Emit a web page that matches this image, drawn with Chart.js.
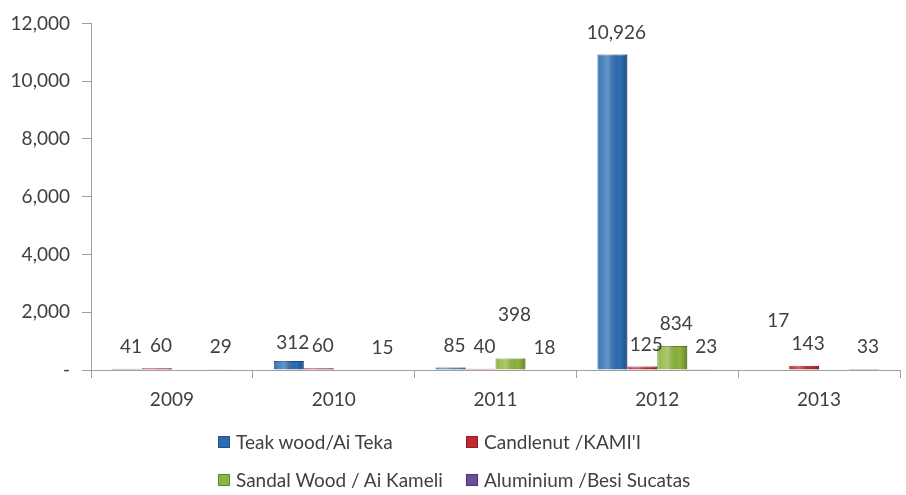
<!DOCTYPE html>
<html>
<head>
<meta charset="utf-8">
<script src="https://cdn.jsdelivr.net/npm/chart.js@4/dist/chart.umd.min.js"></script>
<style>
  body { margin: 0; background: #fff; }
  #wrap { position: relative; width: 906px; height: 495px; }
  #legend { position: absolute; left: 218px; top: 430px; font-family: Lato, sans-serif; font-size: 19px; color: #404040; }
  .item { position: absolute; white-space: nowrap; display: flex; align-items: center; }
  .box { width: 10px; height: 10px; margin-right: 6px; border: 1px solid rgba(0,0,0,0.25); }
</style>
</head>
<body>
<div id="wrap">
  <canvas id="myChart" width="906" height="495"></canvas>
  <div id="legend"></div>
</div>
<script>
var years = ["2009", "2010", "2011", "2012", "2013"];
var seriesNames = ["Teak wood/Ai Teka", "Candlenut /KAMI'I", "Sandal Wood / Ai Kameli", "Aluminium /Besi Sucatas"];
var teak = [41, 312, 85, 10926, 17];
var candlenut = [60, 60, 40, 125, 143];
var sandal = [0, 0, 398, 834, 0];
var aluminium = [29, 15, 18, 23, 33];
var yTicks = [0, 2000, 4000, 6000, 8000, 10000, 12000];

var colors = ["#2e6db5", "#c0282e", "#8db53c", "#6a4c9c"];
var borders = ["#1d4b86", "#8e1a1f", "#62812a", "#4a3470"];
var allSeries = [teak, candlenut, sandal, aluminium];

// some labels sit higher in the original to avoid overlapping
var labelLift = { "2:2": 22, "0:4": 27, "0:1": -4 };

var labelPlugin = {
  id: "barLabels",
  afterDatasetsDraw: function (chart) {
    var ctx = chart.ctx;
    ctx.save();
    // soft highlight to give bars a rounded look
    chart.data.datasets.forEach(function (ds, di) {
      chart.getDatasetMeta(di).data.forEach(function (bar) {
        var h = bar.base - bar.y;
        if (h < 1) return;
        var g = ctx.createLinearGradient(bar.x - bar.width / 2, 0, bar.x + bar.width / 2, 0);
        g.addColorStop(0, "rgba(255,255,255,0.05)");
        g.addColorStop(0.35, "rgba(255,255,255,0.28)");
        g.addColorStop(0.75, "rgba(0,0,0,0.0)");
        g.addColorStop(1, "rgba(0,0,0,0.25)");
        ctx.fillStyle = g;
        ctx.fillRect(bar.x - bar.width / 2, bar.y, bar.width, h);
      });
    });
    ctx.font = "19px Lato, sans-serif";
    ctx.fillStyle = "#404040";
    ctx.textAlign = "center";
    ctx.textBaseline = "middle";
    chart.data.datasets.forEach(function (ds, di) {
      chart.getDatasetMeta(di).data.forEach(function (bar, i) {
        var v = ds.data[i];
        if (!v) return;
        var lift = labelLift[di + ":" + i] || 0;
        ctx.fillText(v.toLocaleString("en-US"), bar.x + 4, bar.y - 22 - lift);
      });
    });
    ctx.restore();
  }
};

var datasets = allSeries.map(function (vals, i) {
  return {
    label: seriesNames[i],
    data: vals,
    backgroundColor: colors[i],
    borderColor: borders[i],
    borderWidth: 1,
    barPercentage: 1,
    categoryPercentage: 0.74
  };
});

new Chart("myChart", {
  type: "bar",
  data: { labels: years, datasets: datasets },
  options: {
    responsive: false,
    animation: false,
    layout: { padding: { top: 15, right: 6, left: 0, bottom: 0 } },
    plugins: { legend: { display: false }, tooltip: { enabled: false } },
    scales: {
      x: {
        afterFit: function (s) { s.height = 125; },
        border: { color: "#a0a0a0" },
        grid: { drawOnChartArea: false, tickLength: 8, color: "#a0a0a0", offset: true },
        ticks: { color: "#404040", font: { family: "Lato", size: 19 }, padding: 10 }
      },
      y: {
        min: 0,
        max: 12000,
        afterFit: function (s) { s.width = 91; },
        afterBuildTicks: function (s) { s.ticks = yTicks.map(function (v) { return { value: v }; }); },
        border: { color: "#a0a0a0" },
        grid: { drawOnChartArea: false, tickLength: 9, color: "#a0a0a0" },
        ticks: {
          color: "#404040",
          font: { family: "Lato", size: 19 },
          padding: 12,
          callback: function (v) { return v === 0 ? "-" : v.toLocaleString("en-US"); }
        }
      }
    }
  },
  plugins: [labelPlugin]
});

// two-row legend as in the original
var legendPos = [[0, 0], [248, 0], [0, 38], [248, 38]];
var legend = document.getElementById("legend");
seriesNames.forEach(function (name, i) {
  var d = document.createElement("div");
  d.className = "item";
  d.style.left = legendPos[i][0] + "px";
  d.style.top = legendPos[i][1] + "px";
  d.innerHTML = '<span class="box" style="background:' + colors[i] + '"></span>' + name;
  legend.appendChild(d);
});
</script>
</body>
</html>
